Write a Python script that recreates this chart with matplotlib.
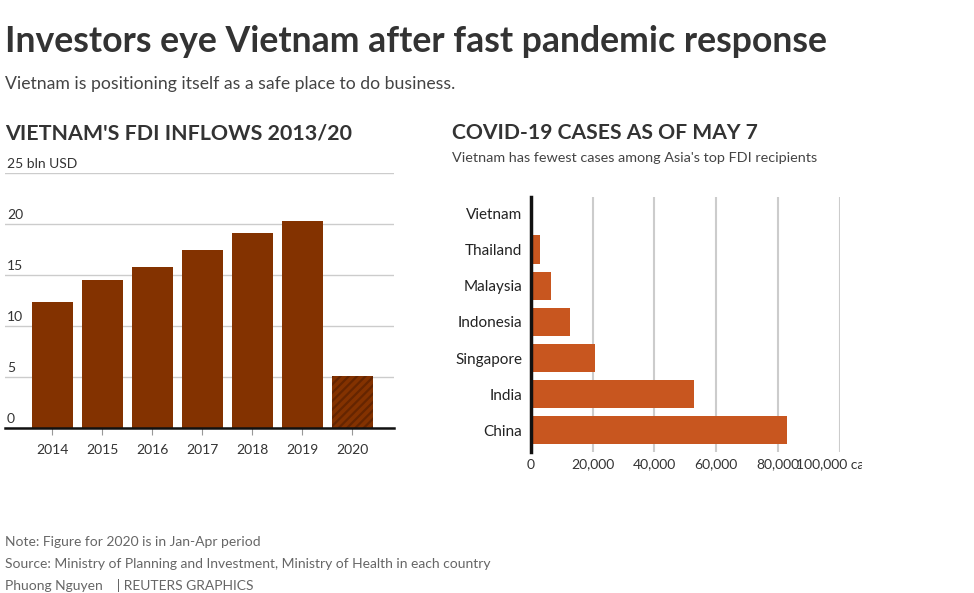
import matplotlib
matplotlib.use('Agg')
import matplotlib.pyplot as plt
from matplotlib.transforms import Bbox, TransformedBbox, blended_transform_factory

plt.rcParams['font.family'] = ['Lato', 'DejaVu Sans']
plt.rcParams['hatch.linewidth'] = 1.6

# data
years = ['2014', '2015', '2016', '2017', '2018', '2019', '2020']
fdi = [12.4, 14.5, 15.8, 17.4, 19.1, 20.3, 5.1]
fdi_ticks = [0, 5, 10, 15, 20, 25]
fdi_tick_labels = ['0', '5', '10', '15', '20', '25 bln USD']

countries = ['China', 'India', 'Singapore', 'Indonesia', 'Malaysia', 'Thailand', 'Vietnam']
cases = [82885, 52952, 20939, 12776, 6467, 2992, 288]
case_ticks = [0, 20000, 40000, 60000, 80000, 100000]
case_tick_labels = ['0', '20,000', '40,000', '60,000', '80,000', '100,000 cases']

W, H = 974, 593
fig = plt.figure(figsize=(W / 100, H / 100), dpi=100)

def px(x0, y0, x1, y1):
    # pixel box -> figure fractions
    return [x0 / W, 1 - y1 / H, (x1 - x0) / W, (y1 - y0) / H]

dark = '#333333'
brown = '#833200'
orange = '#c8561f'

fig.text(5 / W, 1 - 41 / H, 'Investors eye Vietnam after fast pandemic response',
         fontsize=25.7, fontweight='bold', color=dark, va='center')
fig.text(5 / W, 1 - 84 / H, 'Vietnam is positioning itself as a safe place to do business.',
         fontsize=12.7, color='#444444', va='center')

fig.text(5 / W, 1 - 133 / H, "VIETNAM'S FDI INFLOWS 2013/20",
         fontsize=15.4, fontweight='bold', color=dark, va='center')
fig.text(452 / W, 1 - 133 / H, 'COVID-19 CASES AS OF MAY 7',
         fontsize=15.2, fontweight='bold', color=dark, va='center')
fig.text(452 / W, 1 - 158 / H, "Vietnam has fewest cases among Asia's top FDI recipients",
         fontsize=10.4, color='#444444', va='center')

# left: FDI bars
ax1 = fig.add_axes(px(5, 172.7, 394, 428.3))
x = list(range(len(years)))
bars = ax1.bar(x, fdi, width=0.82, color=brown, zorder=2)
bars[-1].set_hatch('////')
bars[-1].set_edgecolor('#652500')
bars[-1].set_linewidth(0)
ax1.set_xlim(-0.94, 6.84)
ax1.set_ylim(0, 25)
ax1.set_yticks(fdi_ticks)
ax1.yaxis.grid(True, color='#cccccc', lw=1, zorder=0)
ax1.tick_params(axis='y', length=0, labelleft=False)
trans = blended_transform_factory(ax1.transAxes, ax1.transData)
for t, lab in zip(fdi_ticks, fdi_tick_labels):
    ax1.text(0.005, t + 0.3, lab, transform=trans, fontsize=10, color=dark,
             ha='left', va='bottom')
ax1.set_xticks(x)
ax1.set_xticklabels(years)
ax1.tick_params(axis='x', length=5, color='#999999', labelsize=10, labelcolor=dark, pad=6)
for s in ['top', 'right', 'left']:
    ax1.spines[s].set_visible(False)
ax1.spines['bottom'].set_color('#111111')
ax1.spines['bottom'].set_linewidth(1.8)
ax1.spines['bottom'].set_zorder(3)

# right: COVID cases
ax2 = fig.add_axes(px(530.7, 197.3, 840, 451.7))
y = list(range(len(countries)))
ax2.barh(y, cases, height=0.8, color=orange, zorder=2)
ax2.set_xlim(0, 100000)
ax2.set_ylim(-0.6, 6.46)
ax2.set_xticks(case_ticks)
ax2.set_xticklabels(case_tick_labels)
ax2.xaxis.grid(True, color='#cccccc', lw=1.5, zorder=0)
ax2.tick_params(axis='x', length=0, labelsize=10, labelcolor=dark, pad=5)
ax2.set_yticks(y)
ax2.set_yticklabels(countries)
ax2.tick_params(axis='y', length=0, labelsize=11, labelcolor='#222222', pad=6)
for s in ['top', 'right', 'bottom']:
    ax2.spines[s].set_visible(False)
ax2.spines['left'].set_color('#111111')
ax2.spines['left'].set_linewidth(2.5)
ax2.spines['left'].set_zorder(3)
clip = TransformedBbox(Bbox([[0, 0], [862 / W, 1]]), fig.transFigure)
last = ax2.get_xticklabels()[-1]
last.set_clip_box(clip)
last.set_clip_on(True)

fig.text(5 / W, 1 - 542 / H, 'Note: Figure for 2020 is in Jan-Apr period',
         fontsize=10, color='#666666', va='center')
fig.text(5 / W, 1 - 564 / H, 'Source: Ministry of Planning and Investment, Ministry of Health in each country',
         fontsize=10, color='#666666', va='center')
fig.text(5 / W, 1 - 586 / H, 'Phuong Nguyen    | REUTERS GRAPHICS',
         fontsize=10, color='#666666', va='center')

fig.savefig('out.png', dpi=100)
